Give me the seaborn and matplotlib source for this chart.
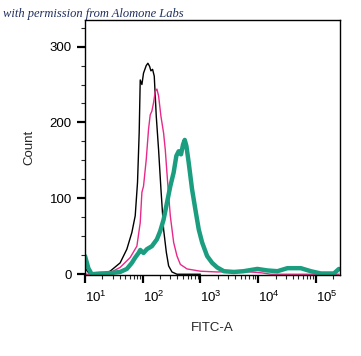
import matplotlib
matplotlib.use("Agg")
import matplotlib.pyplot as plt
import matplotlib.ticker as mticker
import numpy as np
import pandas as pd
import seaborn as sns

# histogram traces, x given as log10(FITC-A), y as Count
black_log = [1.0, 1.04, 1.087, 1.26, 1.435, 1.609, 1.725, 1.812, 1.870, 1.910, 1.939, 1.957,
             1.986, 2.014, 2.061, 2.090, 2.119, 2.142, 2.171, 2.2, 2.235, 2.275, 2.316,
             2.362, 2.409, 2.449, 2.507, 2.594, 3.0]
black_cnt = [9, 4, 0, 0, 4, 15, 33, 55, 77, 121, 187, 256,
             250, 265, 275, 278, 274, 268, 270, 261, 208, 164, 112,
             59, 29, 11, 3, 0, 0]

pink_log = [1.0, 1.145, 1.435, 1.609, 1.783, 1.899, 1.957, 1.986, 2.014, 2.061, 2.101, 2.130,
            2.159, 2.188, 2.217, 2.246, 2.275, 2.316, 2.362, 2.391, 2.432, 2.478, 2.536,
            2.594, 2.652, 2.768, 3.0, 3.29, 3.696, 4.043, 4.22, 5.4]
pink_cnt = [0, 0, 2, 9, 22, 37, 68, 108, 116, 151, 191, 210,
            215, 226, 241, 244, 235, 208, 186, 164, 121, 77, 42,
            24, 13, 7, 4, 3, 4, 2, 0, 0]

teal_log = [1.0, 1.058, 1.116, 1.26, 1.435, 1.609, 1.725, 1.812, 1.870, 1.928, 1.957, 2.014,
            2.072, 2.159, 2.246, 2.304, 2.362, 2.420, 2.478, 2.536, 2.583, 2.623, 2.664,
            2.699, 2.728, 2.757, 2.797, 2.855, 2.913, 2.971, 3.029, 3.116, 3.203, 3.290,
            3.406, 3.580, 3.748, 3.986, 4.16, 4.334, 4.508, 4.739, 4.913, 5.087, 5.313, 5.4]
teal_cnt = [24, 8, 0, 1, 1.5, 3, 7, 15, 22, 28, 32, 28,
            33, 37, 46, 57, 72, 94, 116, 134, 156, 162, 158,
            171, 177, 169, 147, 112, 85, 59, 42, 24, 15, 9,
            4, 3, 4, 7, 5, 4, 8, 8, 4, 1, 1, 7]

x_ticks = [1e1, 1e2, 1e3, 1e4, 1e5]
x_labels = ["$10^{1}$", "$10^{2}$", "$10^{3}$", "$10^{4}$", "$10^{5}$"]
y_ticks = [0, 100, 200, 300]

sns.set_style("ticks")
plt.rcParams["font.family"] = ["Liberation Sans", "DejaVu Sans"]
plt.rcParams["mathtext.fontset"] = "custom"
plt.rcParams["mathtext.rm"] = "Liberation Sans"
plt.rcParams["mathtext.it"] = "Liberation Sans"

fig = plt.figure(figsize=(3.61, 3.56), dpi=100)
ax = fig.add_axes([85 / 361, 81 / 356, 255 / 361, 255 / 356])

traces = [
    (black_log, black_cnt, "black", 1.0),
    (pink_log, pink_cnt, "#e7298a", 1.0),
    (teal_log, teal_cnt, "#1b9e80", 3.2),
]
for logs, cnts, col, lw in traces:
    df = pd.DataFrame({"fitc": 10 ** np.array(logs), "count": cnts})
    sns.lineplot(data=df, x="fitc", y="count", ax=ax, color=col, linewidth=lw,
                 sort=False, estimator=None)

ax.set_xscale("log")
ax.set_xlim(10, 262144)
ax.set_ylim(-1, 335)

ax.set_xticks(x_ticks)
ax.set_xticklabels(x_labels, ha="left")
ax.xaxis.set_minor_locator(mticker.LogLocator(base=10, subs=np.arange(2, 10), numticks=20))
ax.xaxis.set_minor_formatter(mticker.NullFormatter())
ax.set_yticks(y_ticks)
ax.yaxis.set_minor_locator(mticker.MultipleLocator(25))

ax.tick_params(axis="both", which="major", length=6, width=1.6, labelsize=9.5, colors="black")
ax.tick_params(axis="both", which="minor", length=3, width=0.8)
ax.tick_params(axis="x", which="major", pad=5)

for side in ["left", "bottom", "top", "right"]:
    ax.spines[side].set_visible(True)
    ax.spines[side].set_color("black")
    ax.spines[side].set_linewidth(1.0)

ax.set_xlabel("FITC-A", fontsize=9.5, labelpad=12)
ax.set_ylabel("Count", fontsize=9.5, labelpad=10)

fig.text(3 / 361, 1 - 17 / 356, "with permission from Alomone Labs", fontsize=9,
         family="Liberation Serif", style="italic", color="#1f2f5f")

fig.savefig("out.png", dpi=100)
